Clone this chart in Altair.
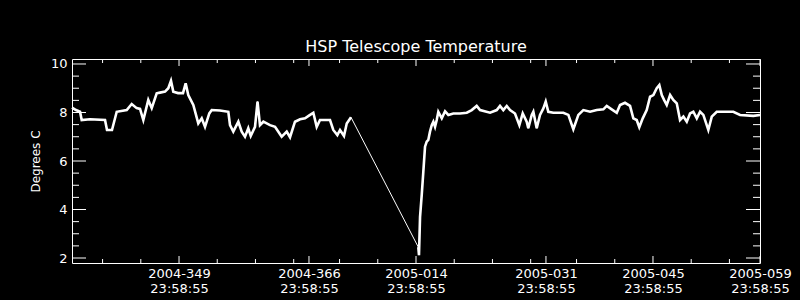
import altair as alt
import pandas as pd

# ---- data (day offset from 2004-335 23:58:55, temperature in deg C) ----
seg_a_day = [0.00, 0.52, 1.05, 1.27, 2.35, 4.32, 4.58, 5.23, 5.85, 7.16, 7.81, 8.46, 8.90, 9.33,
             9.98, 10.43, 11.08, 11.51, 12.17, 12.60, 12.95, 13.25, 13.87, 14.52, 14.87, 15.21,
             15.87, 16.52, 16.97, 17.40, 17.96, 18.28, 19.36, 20.45, 20.67, 21.10, 21.76, 22.20,
             22.63, 23.06, 23.38, 23.94, 24.27, 24.59, 25.03, 25.90, 26.56, 27.43, 28.09, 28.52,
             29.17, 29.83, 30.48, 31.14, 31.57, 32.01, 32.44, 33.75, 34.18, 34.71, 35.06, 35.58,
             35.94, 36.50]
seg_a_val = [8.20, 8.10, 8.03, 7.69, 7.72, 7.69, 7.28, 7.28, 8.03, 8.10, 8.35, 8.18, 8.15, 7.69,
             8.52, 8.18, 8.79, 8.82, 8.86, 9.00, 9.31, 8.86, 8.80, 8.80, 9.20, 8.72,
             8.31, 7.55, 7.76, 7.41, 7.96, 8.10, 8.08, 8.03, 7.48, 7.21, 7.62, 7.21,
             7.00, 7.35, 7.03, 7.41, 8.45, 7.48, 7.62, 7.48, 7.41, 7.00, 7.21, 6.98,
             7.62, 7.72, 7.76, 7.90, 7.99, 7.41, 7.69, 7.69, 7.28, 7.07, 7.28, 7.03,
             7.55, 7.80]

seg_b_day = [45.30, 45.39, 45.53, 45.75, 45.96, 46.18, 46.40, 46.61, 46.83, 47.06, 47.27, 47.49,
             47.71, 47.92, 48.37, 48.80, 49.23, 49.88, 50.76, 51.64, 52.29, 52.94, 53.38, 54.69,
             55.56, 55.99, 56.42, 56.87, 57.30, 57.95, 58.52, 58.96, 59.48, 59.69, 60.14, 60.35,
             60.79, 61.22, 61.66, 61.97, 62.31, 62.97, 64.27, 64.93, 65.58, 66.24, 66.89, 67.77,
             68.64, 69.51, 69.95, 70.60, 71.26, 71.69, 72.34, 73.00, 73.43, 73.87, 74.21, 74.66,
             75.18, 75.62, 76.05, 76.49, 76.83, 77.15, 77.45, 77.80, 78.24, 78.66, 79.11, 79.54,
             79.98, 80.42, 80.85, 81.28, 81.73, 82.16, 82.59, 83.24, 83.69, 84.34, 86.51, 87.39,
             89.13, 90.00]
seg_b_val = [2.45, 2.12, 3.70, 4.60, 5.56, 6.59, 6.80, 6.87, 7.21, 7.48, 7.62, 7.41,
             7.69, 8.03, 7.76, 8.05, 7.90, 7.96, 7.96, 7.99, 8.10, 8.27, 8.10, 7.99,
             8.10, 8.27, 8.10, 8.27, 8.10, 7.96, 7.48, 7.96, 7.62, 7.35, 7.90, 8.03,
             7.35, 7.90, 8.17, 8.45, 8.03, 7.99, 7.99, 7.90, 7.31, 7.90, 8.10, 8.03,
             8.10, 8.13, 8.27, 8.13, 7.99, 8.31, 8.40, 8.27, 7.76, 7.69, 7.39, 7.76,
             8.10, 8.65, 8.72, 9.00, 9.13, 8.72, 8.52, 8.31, 8.72, 8.52, 8.38, 7.69,
             7.83, 7.62, 7.96, 8.03, 7.76, 8.03, 7.90, 7.28, 7.83, 8.03, 8.03, 7.90,
             7.86, 7.90]

# axis ticks
x_major = [14, 31, 45, 62, 76, 90]
x_labels = ["2004-349", "2004-366", "2005-014", "2005-031", "2005-045", "2005-059"]
x_time = "23:58:55"
x_minor = [4, 9, 19, 24, 29, 35, 40, 50, 55, 60, 66, 71, 81, 86]
y_major = [2, 4, 6, 8, 10]
y_minor = [2.5, 3, 3.5, 4.5, 5, 5.5, 6.5, 7, 7.5, 8.5, 9, 9.5]

W, H = 688, 204

df = pd.DataFrame({
    "day": seg_a_day + seg_b_day,
    "temp": seg_a_val + seg_b_val,
    "seg": ["a"] * len(seg_a_day) + ["b"] * len(seg_b_day),
})

label_expr = ""
for d, l in zip(x_major, x_labels):
    label_expr += f"datum.value == {d} ? ['{l}', '{x_time}'] : "
label_expr += "''"

xscale = alt.Scale(domain=[0, 90], nice=False, zero=False)
yscale = alt.Scale(domain=[1.794, 10.206], nice=False, zero=False)

xaxis = alt.Axis(values=x_major, labelExpr=label_expr, ticks=False, domain=False, grid=False,
                 labelColor="white", labelFont="DejaVu Sans", labelFontSize=13,
                 labelPadding=4, labelLineHeight=15, labelOverlap=False, labelBound=False,
                 labelFlush=False, title=None)
yaxis = alt.Axis(values=y_major, ticks=False, domain=False, grid=False,
                 labelColor="white", labelFont="DejaVu Sans", labelFontSize=13,
                 labelPadding=5, title="Degrees C", titleColor="white",
                 titleFont="DejaVu Sans", titleFontSize=12, titleFontWeight="normal",
                 titleX=-37, titleY=H / 2, titleAlign="center", titleBaseline="middle",
                 titleAngle=270)

X = alt.X("day:Q", scale=xscale, axis=xaxis)
Y = alt.Y("temp:Q", scale=yscale, axis=yaxis)

thin = alt.Chart(df).mark_line(color="white", strokeWidth=1).encode(x=X, y=Y, order="day:Q")
thick = alt.Chart(df).mark_line(color="white", strokeWidth=2.6, strokeJoin="miter").encode(
    x=X, y=Y, detail="seg:N", order="day:Q")

dxmaj = pd.DataFrame({"day": x_major})
dxmin = pd.DataFrame({"day": x_minor})
dymaj = pd.DataFrame({"temp": y_major})
dymin = pd.DataFrame({"temp": y_minor})

def xticks(d, length):
    b = alt.Chart(d).mark_rule(color="white", strokeWidth=1).encode(
        x=X, y=alt.value(H), y2=alt.value(H - length))
    t = alt.Chart(d).mark_rule(color="white", strokeWidth=1).encode(
        x=X, y=alt.value(0), y2=alt.value(length))
    return [b, t]

def yticks(d, length):
    l = alt.Chart(d).mark_rule(color="white", strokeWidth=1).encode(
        y=Y, x=alt.value(0), x2=alt.value(length))
    r = alt.Chart(d).mark_rule(color="white", strokeWidth=1).encode(
        y=Y, x=alt.value(W - length), x2=alt.value(W))
    return [l, r]

layers = [thin, thick] + xticks(dxmaj, 7) + xticks(dxmin, 4) + yticks(dymaj, 14) + yticks(dymin, 7)

chart = alt.layer(*layers).properties(
    width=W, height=H,
    title=alt.TitleParams("HSP Telescope Temperature", color="white", font="DejaVu Sans",
                          fontSize=16, fontWeight="normal", anchor="middle",
                          baseline="alphabetic", offset=6, dy=16),
    autosize=alt.AutoSizeParams(type="none"),
    padding={"left": 72, "top": 59, "right": 40, "bottom": 37},
    background="black",
).configure_view(stroke="white", strokeWidth=1)

chart.save("out.html", embed_options={"renderer": "svg", "actions": False})
